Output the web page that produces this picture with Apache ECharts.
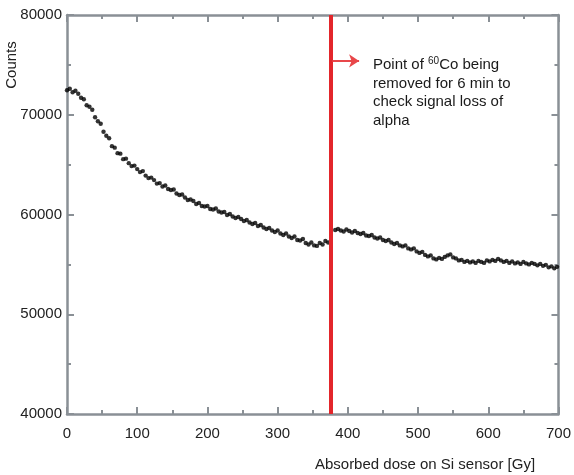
<!DOCTYPE html>
<html>
<head>
<meta charset="utf-8">
<script src="https://cdn.jsdelivr.net/npm/echarts@6/dist/echarts.min.js"></script>
<style>html,body{margin:0;padding:0;background:#fff}#c{width:574px;height:475px}</style>
</head>
<body>
<div id="c"></div>
<script>
var doseBefore = [0,4,8,12,16,20,24,28,32,36,40,44,48,52,56,60,64,68,72,76,80,84,88,92,96,100,104,108,112,116,120,124,128,132,136,140,144,148,152,156,160,164,168,172,176,180,184,188,192,196,200,204,208,212,216,220,224,228,232,236,240,244,248,252,256,260,264,268,272,276,280,284,288,292,296,300,304,308,312,316,320,324,328,332,336,340,344,348,352,356,360,364,368,372];
var countsBefore = [72450,72600,72250,72400,72100,71700,71550,70950,70800,70500,69750,69350,69100,68300,67900,67650,66850,66700,66150,66100,65550,65600,65150,64850,64900,64550,64250,64350,63900,63650,63700,63450,63100,63150,62800,62900,62550,62450,62500,62100,61950,62000,61700,61450,61500,61350,61050,61150,60850,60800,60850,60550,60500,60600,60300,60200,60250,59950,60050,59800,59650,59750,59550,59350,59450,59200,59050,59150,58850,58950,58700,58550,58650,58400,58250,58400,58100,57950,58100,57800,57650,57800,57450,57400,57550,57150,57000,57200,56900,56850,57150,57000,57350,57200];
var doseAfter = [382,386,390,394,398,402,406,410,414,418,422,426,430,434,438,442,446,450,454,458,462,466,470,474,478,482,486,490,494,498,502,506,510,514,518,522,526,530,534,538,542,546,550,554,558,562,566,570,574,578,582,586,590,594,598,602,606,610,614,618,622,626,630,634,638,642,646,650,654,658,662,666,670,674,678,682,686,690,694,698];
var countsAfter = [58450,58550,58400,58300,58500,58350,58200,58350,58150,58050,58150,57900,57850,57950,57700,57600,57700,57450,57350,57450,57200,57050,57150,56900,56800,56900,56600,56500,56600,56300,56150,56250,55950,55800,55900,55600,55500,55650,55550,55750,55900,56000,55700,55600,55400,55450,55250,55350,55200,55300,55150,55350,55250,55150,55400,55300,55450,55350,55550,55400,55250,55350,55150,55300,55100,55200,55050,55250,55100,55000,55150,55050,54900,55050,54850,54950,54700,54800,54600,54750];
var removalDose = 375;
var arrowStart = [378, 75400];
var arrowEnd = [416, 75400];
var xTicks = {min: 0, max: 700, interval: 100};
var yTicks = {min: 40000, max: 80000, interval: 10000};

var pts = [];
doseBefore.forEach(function (d, i) { pts.push([d, countsBefore[i]]); });
doseAfter.forEach(function (d, i) { pts.push([d, countsAfter[i]]); });

var FONT = 'Liberation Sans, Arial, sans-serif';
var axisColor = '#8a9096';
function plain(v) { return String(v); }
function mkX(pos, showLabel) {
  return {
    type: 'value', position: pos, min: xTicks.min, max: xTicks.max, interval: xTicks.interval,
    axisLine: {show: true, onZero: false, lineStyle: {color: axisColor, width: 2.5}},
    axisTick: {show: true, inside: true, length: 7, lineStyle: {color: axisColor, width: 2}},
    minorTick: {show: true, splitNumber: 2, length: 4, lineStyle: {color: axisColor, width: 2}},
    axisLabel: {show: showLabel, color: '#222', fontFamily: FONT, fontSize: 15, margin: 12, formatter: plain},
    splitLine: {show: false}
  };
}
function mkY(pos, showLabel) {
  return {
    type: 'value', position: pos, min: yTicks.min, max: yTicks.max, interval: yTicks.interval,
    axisLine: {show: true, onZero: false, lineStyle: {color: axisColor, width: 2.5}},
    axisTick: {show: true, inside: true, length: 7, lineStyle: {color: axisColor, width: 2}},
    minorTick: {show: true, splitNumber: 2, length: 4, lineStyle: {color: axisColor, width: 2}},
    axisLabel: {show: showLabel, color: '#222', fontFamily: FONT, fontSize: 15, margin: 5, formatter: plain},
    splitLine: {show: false}
  };
}

var chart = echarts.init(document.getElementById('c'), null, {renderer: 'canvas'});
chart.setOption({
  animation: false,
  backgroundColor: '#fff',
  grid: {left: 67, right: 10, top: 15, bottom: 61, containLabel: false},
  xAxis: [mkX('bottom', true), mkX('top', false)],
  yAxis: [mkY('left', true), mkY('right', false)],
  series: [{
    type: 'scatter',
    xAxisIndex: 0, yAxisIndex: 0,
    data: pts,
    symbol: 'circle',
    symbolSize: 4.4,
    itemStyle: {color: '#000'},
    markLine: {
      silent: true,
      animation: false,
      label: {show: false},
      data: [
        {xAxis: removalDose, symbol: 'none', lineStyle: {color: '#e3262b', width: 4, type: 'solid'}},
        [
          {coord: arrowStart, symbol: 'none', lineStyle: {color: '#e8474a', width: 2, type: 'solid'}},
          {coord: arrowEnd, symbol: 'arrow', symbolSize: [10, 10]}
        ]
      ],
      symbol: ['none', 'none']
    }
  }],
  graphic: [
    {
      type: 'text', left: 373, top: 56,
      style: {
        text: 'Point of {sup|60}Co being\nremoved for 6 min to\ncheck signal loss of\nalpha',
        fontFamily: FONT, fontSize: 15, fill: '#1a1a1a', lineHeight: 18.5,
        rich: {sup: {fontSize: 10, fontFamily: FONT, fill: '#1a1a1a', verticalAlign: 'top', lineHeight: 18.5, padding: [0, 0, 6, 0]}}
      }
    },
    {
      type: 'text', x: 425, y: 465,
      style: {text: 'Absorbed dose on Si sensor [Gy]', fontFamily: FONT, fontSize: 15, fill: '#222', align: 'center', verticalAlign: 'middle'}
    },
    {
      type: 'text', x: 12, y: 65, rotation: Math.PI / 2,
      style: {text: 'Counts', fontFamily: FONT, fontSize: 15, fill: '#222', align: 'center', verticalAlign: 'middle'}
    }
  ]
});
</script>
</body>
</html>
